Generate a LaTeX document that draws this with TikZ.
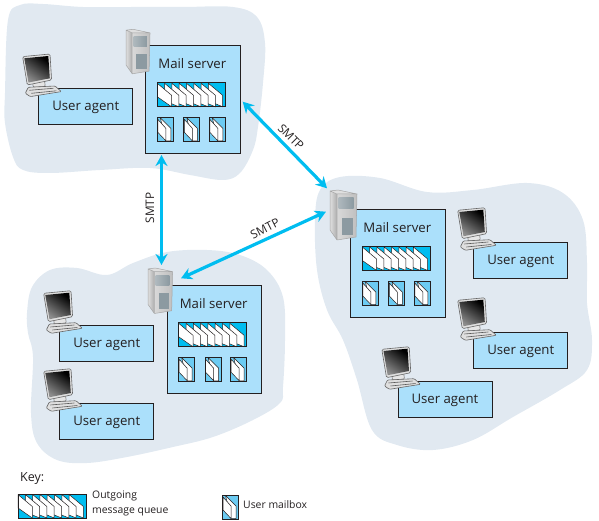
\documentclass[tikz,border=0pt]{standalone}
\usepackage{fontspec}
\setmainfont{Open Sans}
\usetikzlibrary{arrows.meta}
\definecolor{blobgray}{HTML}{E1E9F1}
\definecolor{boxblue}{HTML}{ABE0FB}
\definecolor{linkcyan}{HTML}{00BDF0}
\definecolor{mailcyan}{HTML}{6CCBF2}
\definecolor{inkdark}{HTML}{231F20}
\definecolor{bayslate}{HTML}{8C9AA1}
\begin{document}
\begin{tikzpicture}[
        x=1pt, y=-1pt,
        every node/.style={font=\fontsize{13.2}{15}\selectfont, text=inkdark},
        blob/.style={fill=blobgray, draw=none},
        panel/.style={draw=inkdark, line width=0.9pt, fill=boxblue, anchor=north west, inner sep=0pt},
        sheet/.style={fill=white, draw=inkdark, line width=0.5pt, line join=round},
        link/.style={draw=linkcyan, line width=3.2pt, {Stealth[length=11pt,width=12pt]}-{Stealth[length=11pt,width=12pt]}},
        linklabel/.style={font=\fontsize{11.8}{14}\selectfont},
        keylabel/.style={font=\fontsize{10.4}{15}\selectfont},
        agent/.pic={
            \node[panel, minimum width=94pt, minimum height=36pt, text depth=1.5pt] (-box) at (0,0) {User agent};
            % monitor and keyboard sit on the corner of the box
            \filldraw[fill=gray!20, draw=gray, line width=0.6pt, rounded corners=1pt] (-6,-8) -- (6,-9) -- (7,-2) -- (-5,-1) -- cycle;
            \filldraw[fill=gray!25, draw=gray!80!black, line width=0.6pt, rounded corners=1.5pt] (-15.7,-31.7) -- (11.7,-34.3) -- (13.3,-8.3) -- (-11,-3.3) -- cycle;
            \shade[left color=black, middle color=gray!45, right color=black!45, shading angle=-35] (-14,-30) -- (10,-32.3) -- (11.5,-10) -- (-9.8,-5.8) -- cycle;
            \filldraw[fill=gray!25, draw=gray!80!black, line width=0.6pt, rounded corners=1pt] (-13,5) -- (-10,-1) -- (16.7,-2.3) -- (23,3.3) -- (-8,8.3) -- cycle;
            \draw[gray!70!black, line width=0.6pt] (-9,2) -- (15,0) (-7,5) -- (18,2.5);
        },
        tower/.pic={
            \shade[left color=gray!25, right color=gray!65] (0,1) -- (7,4) -- (7,50) -- (0,40) -- cycle;
            \fill[gray!25] (0,1) -- (8,0) -- (27,4) -- (7,4) -- cycle;
            \shade[left color=gray!30, right color=gray!50] (7,4) -- (27,4) -- (26,47) -- (7,50) -- cycle;
            \draw[gray!70, line width=0.5pt, line join=round] (0,1) -- (8,0) -- (27,4) -- (26,47) -- (7,50) -- (0,40) -- cycle (0,1) -- (7,4) -- (27,4) (7,4) -- (7,50);
            \shade[left color=bayslate!70, right color=bayslate] (8.5,8) rectangle (23.5,19);
            \fill[bayslate] (11.7,28) rectangle (23.3,45);
        },
        queue/.pic={
            \fill[linkcyan] (0,0) rectangle (68,24);
            \foreach \i in {7,...,0} {
                \pgfmathsetmacro{\qx}{\i*7.3}
                \pgfmathsetmacro{\qy}{\i==0 ? 14 : 18}
                \filldraw[sheet] (\qx,0.5) -- (\qx+14.3,12.5) -- (\qx+14.3,24) -- (\qx,\qy) -- cycle;
            }
            \draw[inkdark, line width=0.9pt] (0,0) rectangle (68,24);
        },
        mailbox/.pic={
            \fill[mailcyan] (0,0) rectangle (16,24);
            \filldraw[sheet] (3,0.5) -- (13.5,11) -- (13.5,23.5) -- (8.5,23.5) -- cycle;
            \filldraw[sheet] (0.5,2) -- (8.5,11) -- (8.5,23.5) -- (0.5,15) -- cycle;
            \draw[inkdark, line width=0.9pt] (0,0) rectangle (16,24);
        },
        mailhost/.pic={
            \node[panel, minimum width=94.5pt, minimum height=108pt] (-box) at (0,0) {};
            \node (-title) at (47,18.3) {Mail server};
            \pic at (12,37.5) {queue};
            \pic at (12,72) {mailbox};
            \pic at (38.5,72) {mailbox};
            \pic at (64,72) {mailbox};
        }
    ]
    \useasboundingbox (0,0) rectangle (599,521);

    % clouds behind each domain
    \fill[blob] plot[smooth cycle, tension=0.6] coordinates {(8,20) (20,5) (43,4) (83,7) (133,7) (183,7) (233,7) (257,17) (265,43) (263,83) (258,127) (253,150) (240,173) (223,180) (190,175) (150,168) (100,170) (50,173) (23,170) (13,157) (5,123) (5,93)};
    \fill[blob] plot[smooth cycle, tension=0.6] coordinates {(315,220) (320,190) (340,177) (380,178) (427,192) (473,190) (527,183) (563,193) (583,220) (587,263) (587,303) (592,340) (587,370) (560,390) (513,417) (473,440) (433,450) (397,445) (372,430) (357,380) (343,340) (327,310) (317,270)};
    \fill[blob] plot[smooth cycle, tension=0.6] coordinates {(27,313) (32,287) (50,270) (77,268) (107,275) (133,263) (167,252) (207,250) (240,255) (267,270) (283,297) (285,340) (283,387) (280,403) (253,420) (213,437) (173,447) (127,457) (87,463) (57,460) (37,443) (31,413) (33,357) (28,333)};

    \pic (hostA) at (145.3,45.3) {mailhost};
    \pic (hostB) at (350.3,209) {mailhost};
    \pic (hostC) at (166.7,285.3) {mailhost};
    \pic[scale=0.89] at (126,29.3) {tower};
    \pic at (330,190) {tower};
    \pic[scale=0.91] at (148,268) {tower};

    \pic (agentA) at (38.3,88.3) {agent};
    \pic (agentB) at (59.3,325) {agent};
    \pic (agentC) at (59.3,403) {agent};
    \pic (agentD) at (473.3,242) {agent};
    \pic (agentE) at (473.3,332) {agent};
    \pic (agentF) at (397.5,381) {agent};

    \coordinate (endAB) at (242.7,101.7);
    \coordinate (endBA) at (327,188.3);
    \coordinate (endAC) at (161.5,155);
    \coordinate (endCA) at (161.5,265);
    \coordinate (endBC) at (326,211.7);
    \coordinate (endCB) at (181,278.3);
    \draw[link] (endAB) -- (endBA);
    \draw[link] (endAC) -- (endCA);
    \draw[link] (endBC) -- (endCB);
    \node[linklabel, rotate=-45] (smtpAB) at (291,137) {SMTP};
    \node[linklabel, rotate=90] (smtpAC) at (150,208) {SMTP};
    \node[linklabel, rotate=27] (smtpBC) at (265,229) {SMTP};

    % key
    \node[font=\fontsize{12.5}{14}\selectfont, anchor=west, inner sep=0pt] (keytitle) at (20,479) {Key:};
    \pic at (18,494) {queue};
    \node[keylabel, anchor=north west, align=left, inner sep=0pt] (keyqueue) at (92,491) {Outgoing\\message queue};
    \pic at (222.5,495) {mailbox};
    \node[keylabel, anchor=west, inner sep=0pt] (keybox) at (243,505) {User mailbox};
\end{tikzpicture}
\end{document}
